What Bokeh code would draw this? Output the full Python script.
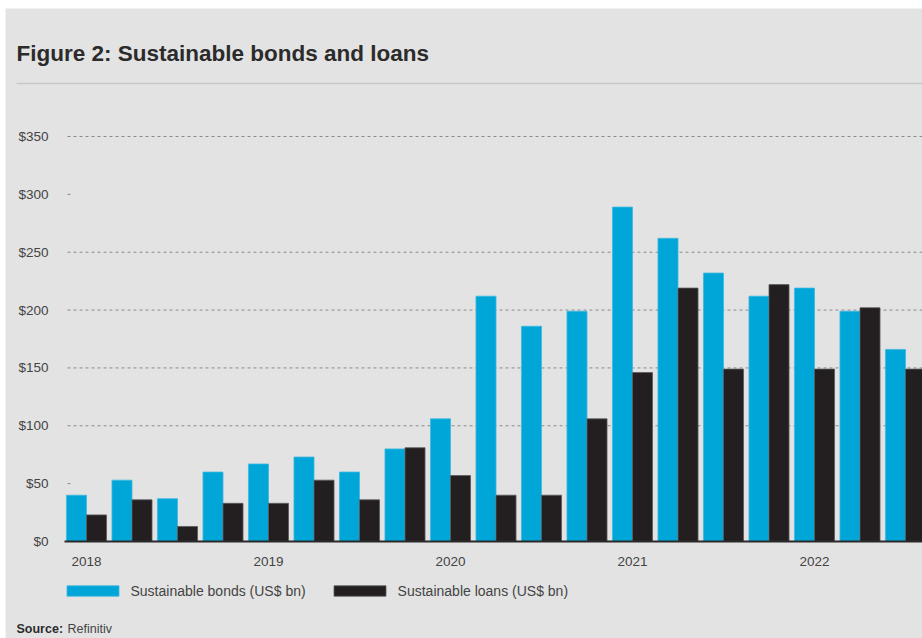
from bokeh.plotting import figure
from bokeh.models import (ColumnDataSource, Label, Legend, LegendItem, PolyAnnotation,
                          Range1d)
from bokeh.embed import file_html
from bokeh.resources import INLINE

# ---- data ----
quarters = list(range(19))
bonds = [40, 53, 37, 60, 67, 73, 60, 80, 106, 212, 186, 199, 289, 262, 232, 212, 219, 199, 166]
loans = [23, 36, 13, 33, 33, 53, 36, 81, 57, 40, 40, 106, 146, 219, 149, 222, 149, 202, 149]
year_ticks = [0, 4, 8, 12, 16]
year_labels = ["2018", "2019", "2020", "2021", "2022"]
y_ticks = [0, 50, 100, 150, 200, 250, 300, 350]
grid_ticks = [100, 150, 200, 250, 350]
stub_ticks = [50, 300]   # grid lines hidden behind the artwork, only a stub shows

BG = "#e3e3e3"
BLUE = "#00a6d8"
DARK = "#231f20"
FONT = "Liberation Sans"
TXT = "#444444"

W, H = 917, 630
X0_PX, PX_PER_Q = 81.0, 45.5
Y0_PX, PX_PER_V = 97.0, 405.0 / 350.0

src = ColumnDataSource(dict(
    xb=[q - 0.22 for q in quarters],
    xl=[q + 0.22 for q in quarters],
    bonds=bonds, loans=loans,
))

p = figure(width=W, height=H, output_backend="svg", toolbar_location=None,
           x_range=Range1d(-X0_PX / PX_PER_Q, (W - X0_PX) / PX_PER_Q),
           y_range=Range1d(-Y0_PX / PX_PER_V, (H - Y0_PX) / PX_PER_V),
           x_axis_location=None, y_axis_location=None,
           min_border=0)
p.extra_x_ranges = {"px": Range1d(0, W)}
p.extra_y_ranges = {"py": Range1d(0, H)}
p.margin = (8, 0, 0, 5)
p.background_fill_color = BG
p.border_fill_color = BG
p.outline_line_color = None
p.xgrid.visible = False
p.ygrid.visible = False

# dashed grid lines (under the bars)
p.segment(x0=62, x1=W, y0=grid_ticks, y1=grid_ticks, x_range_name="px",
          line_color="#8a8a8a", line_dash="3 3", line_width=1)
p.segment(x0=62, x1=65, y0=stub_ticks, y1=stub_ticks, x_range_name="px",
          line_color="#8a8a8a", line_width=1)

rb = p.vbar(x="xb", top="bonds", width=0.44, source=src, fill_color=BLUE,
            line_color="#3fb8e0", line_width=0.8)
rl = p.vbar(x="xl", top="loans", width=0.44, source=src, fill_color=DARK,
            line_color="#5a5a5a", line_width=0.8)

# baseline
p.segment(x0=59, x1=W, y0=0, y1=0, x_range_name="px", line_color="#2a2a2a", line_width=2)

# y tick labels
p.text(x=43, y=y_ticks, text=["$%d" % t for t in y_ticks], x_range_name="px",
       text_align="right", text_baseline="middle", text_font={"value": FONT},
       text_font_size="13.5px", text_color=TXT)
# year labels
p.text(x=year_ticks, y=77, text=year_labels, y_range_name="py",
       text_align="center", text_baseline="middle", text_font={"value": FONT},
       text_font_size="13.5px", text_color=TXT)

# title, rule, source
p.add_layout(Label(x=11, y=585, x_units="screen", y_units="screen",
                   text="Figure 2: Sustainable bonds and loans", text_font=FONT,
                   text_font_style="bold", text_font_size="22.5px", text_color="#2b2b2b",
                   text_baseline="middle"))
p.add_layout(PolyAnnotation(xs=[11, W, W, 11], ys=[555, 555, 555, 555],
                            xs_units="screen", ys_units="screen",
                            fill_color=None, line_color="#8c8c8c", line_width=1.5))
p.add_layout(Label(x=11, y=10, x_units="screen", y_units="screen",
                   text="Source:", text_font=FONT, text_font_style="bold",
                   text_font_size="12.5px", text_color="#2b2b2b", text_baseline="middle"))
p.add_layout(Label(x=62, y=10, x_units="screen", y_units="screen",
                   text="Refinitiv", text_font=FONT,
                   text_font_size="12.5px", text_color=TXT, text_baseline="middle"))

legend = Legend(items=[LegendItem(label="Sustainable bonds (US$ bn)", renderers=[rb]),
                       LegendItem(label="Sustainable loans (US$ bn)", renderers=[rl])],
                location=(54.5, 39.5), orientation="horizontal",
                glyph_width=65, glyph_height=13, label_height=13,
                label_standoff=6, spacing=21, padding=0, margin=0,
                border_line_color=None, background_fill_alpha=0,
                label_text_font=FONT, label_text_font_size="14px",
                label_text_color=TXT)
p.add_layout(legend, "center")

open("out.html", "w").write(file_html(p, INLINE))
